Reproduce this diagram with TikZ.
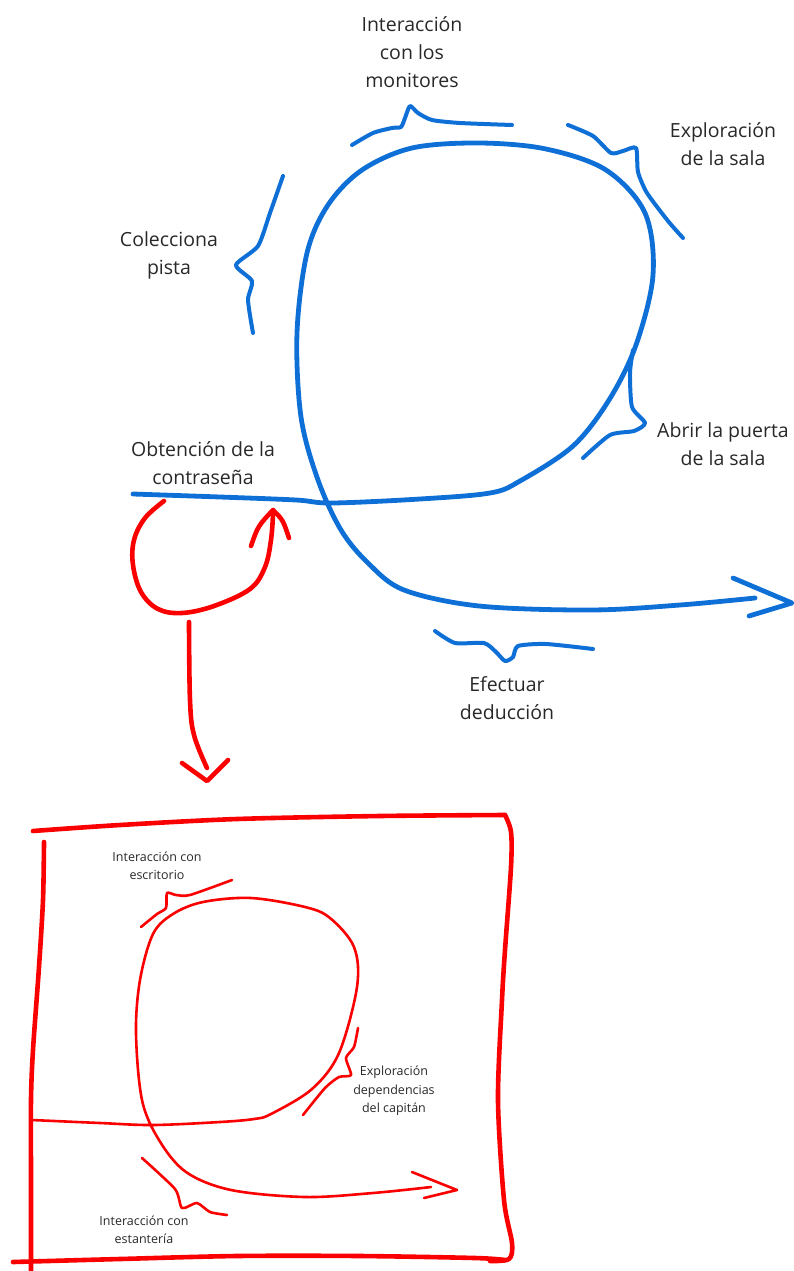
\documentclass[tikz,border=0pt]{standalone}
\usepackage{fontspec}
\setmainfont{Open Sans}
\definecolor{inkblue}{RGB}{14,112,214}
\definecolor{inkred}{RGB}{250,0,0}
\definecolor{labelgray}{RGB}{40,40,40}
\begin{document}
\begin{tikzpicture}[x=1pt,y=-1pt,
  bluemain/.style={draw=inkblue, line width=4.8pt, line cap=round, line join=round},
  bluebrace/.style={draw=inkblue, line width=4pt, line cap=round, line join=round},
  redthick/.style={draw=inkred, line width=4.6pt, line cap=round, line join=round},
  redthin/.style={draw=inkred, line width=2.6pt, line cap=round, line join=round},
  biglabel/.style={text=labelgray, align=center, inner sep=0pt,
    font=\fontsize{19.5}{28}\selectfont},
  smalllabel/.style={text=labelgray, align=center, inner sep=0pt,
    font=\fontsize{12.5}{18.5}\selectfont}]
\useasboundingbox (0,0) rectangle (793,1271);

% ---------- labels of the main cycle ----------
\node[biglabel] (monitores) at (412,52) {Interacción\\con los\\monitores};
\node[biglabel] (sala) at (723,144) {Exploración\\de la sala};
\node[biglabel] (pista) at (169,255) {Colecciona\\pista};
\node[biglabel] (contrasena) at (203,463) {Obtención de la\\contraseña};
\node[biglabel] (puerta) at (723,444) {Abrir la puerta\\de la sala};
\node[biglabel] (deduccion) at (507,698) {Efectuar\\deducción};

% ---------- main blue loop ----------
\draw[bluemain] plot[smooth,tension=0.55] coordinates {
  (133,494) (220,497) (296,500) (332,503) (420,499) (490,493) (520,481)
  (573,446) (609,400) (636,345) (653,275) (645,213) (606,170) (546,149)
  (479,143) (412,148) (362,170) (328,205) (307,253) (297,333) (301,417)
  (318,480) (341,530) (368,563) (404,590) (479,606) (591,610) (680,605) (755,598)};
\coordinate (tipA) at (792,603);
\draw[bluemain] (733,578) -- (tipA) -- (749,616);

% ---------- blue braces ----------
\draw[bluebrace] plot[smooth,tension=0.4] coordinates {
  (352,145) (373,133) (392,128) (401,127) (405,118) (410,106) (418,113)
  (432,120) (460,123) (512,125)};
\draw[bluebrace] plot[smooth,tension=0.4] coordinates {
  (568,125) (593,136) (611,153) (623,151) (636,148) (638,172) (647,193)
  (668,221) (683,238)};
\draw[bluebrace] plot[smooth,tension=0.4] coordinates {
  (283,176) (270,213) (258,246) (236,265) (252,281) (248,300) (253,333)};
\draw[bluebrace] plot[smooth,tension=0.4] coordinates {
  (633,350) (630,373) (632,407) (645,423) (634,431) (610,435) (583,458)};
\draw[bluebrace] plot[smooth,tension=0.4] coordinates {
  (435,631) (455,643) (484,643) (496,652) (505,661) (513,657) (518,646)
  (546,644) (593,649)};

% ---------- red loop back to the password ----------
\draw[redthick] plot[smooth,tension=0.6] coordinates {
  (164,501) (145,518) (134,540) (133,565) (141,592) (158,609) (182,613)
  (214,606) (250,589) (265,567) (271,540) (273,514)};
\coordinate (tipB) at (273,510);
\draw[redthick] (251,546) .. controls (258,526) .. (tipB) .. controls (283,520) .. (289,538);

% ---------- red arrow down to the detail ----------
\coordinate (tipC) at (207,781);
\draw[redthick] plot[smooth,tension=0.6] coordinates {
  (189,622) (190,700) (194,735) (207,768)};
\draw[redthick] (182,763) -- (tipC) -- (228,760);

% ---------- red frame ----------
\draw[redthick] plot[smooth,tension=0.5] coordinates {
  (33,831) (120,825) (237,819) (380,816) (505,815)};
\draw[redthick] plot[smooth,tension=0.5] coordinates {
  (505,815) (511,832) (511,867) (505,950) (502,1000) (498,1100) (504,1200)
  (512,1243) (509,1259) (490,1261)};
\draw[redthick] plot[smooth,tension=0.5] coordinates {
  (13,1262) (120,1259) (237,1256) (360,1256) (475,1258) (505,1260)};
\draw[redthick] plot[smooth,tension=0.5] coordinates {
  (44,842) (43,900) (39,967) (33,1050) (31,1100) (31,1180) (31,1271)};

% ---------- inner red loop ----------
\draw[redthin] plot[smooth,tension=0.55] coordinates {
  (32,1120) (100,1123) (153,1125) (220,1122) (254,1119) (271,1114)
  (312,1089) (339,1053) (357,987) (354,947) (330,918) (305,907) (251,898)
  (203,902) (173,914) (153,934) (140,980) (136,1033) (142,1100) (159,1140)
  (186,1172) (231,1190) (305,1197) (373,1193) (431,1187)};
\coordinate (tipD) at (457,1190);
\draw[redthin] (412,1172) -- (tipD) -- (424,1198);

% ---------- red braces ----------
\draw[redthin] plot[smooth,tension=0.4] coordinates {
  (141,927) (157,914) (166,908) (167,893) (176,895) (190,895) (232,880)};
\draw[redthin] plot[smooth,tension=0.4] coordinates {
  (358,1028) (354,1047) (346,1058) (351,1075) (339,1077) (325,1088) (303,1115)};
\draw[redthin] plot[smooth,tension=0.4] coordinates {
  (142,1158) (175,1189) (182,1208) (197,1203) (210,1212) (227,1215)};

% ---------- labels of the detail ----------
\node[smalllabel] (escritorio) at (157,866) {Interacción con\\escritorio};
\node[smalllabel] (dependencias) at (394,1091) {Exploración\\dependencias\\del capitán};
\node[smalllabel] (estanteria) at (144,1230) {Interacción con\\estantería};
\end{tikzpicture}
\end{document}
